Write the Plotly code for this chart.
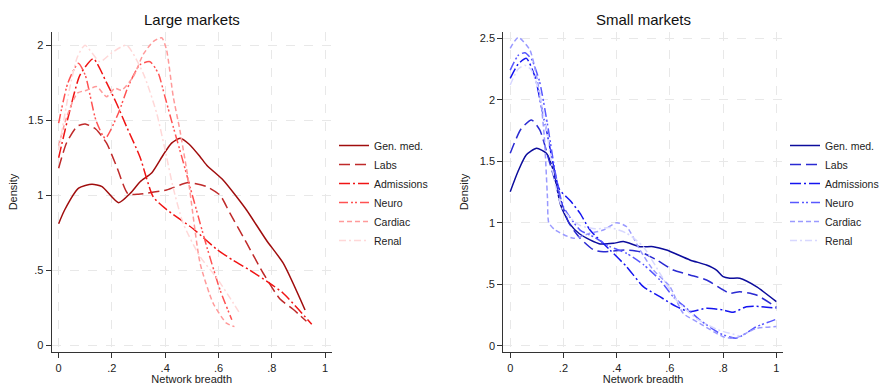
import plotly.graph_objects as go

series_names = ["Gen. med.", "Labs", "Admissions", "Neuro", "Cardiac", "Renal"]
x_tick_vals = [0, 0.2, 0.4, 0.6, 0.8, 1]
x_tick_text = ["0", ".2", ".4", ".6", ".8", "1"]
large_y_tick_vals = [0, 0.5, 1, 1.5, 2]
large_y_tick_text = ["0", ".5", "1", "1.5", "2"]
small_y_tick_vals = [0, 0.5, 1, 1.5, 2, 2.5]
small_y_tick_text = ["0", ".5", "1", "1.5", "2", "2.5"]

# ---- Large markets ----
large_genmed_x = [0, 0.022, 0.075, 0.125, 0.163, 0.225, 0.269, 0.306, 0.35, 0.393, 0.424, 0.456, 0.49, 0.531, 0.556, 0.618, 0.668, 0.706, 0.78, 0.843, 0.925]
large_genmed_y = [0.81, 0.90, 1.047, 1.073, 1.057, 0.95, 1.013, 1.09, 1.15, 1.27, 1.347, 1.38, 1.34, 1.257, 1.20, 1.10, 0.99, 0.90, 0.70, 0.547, 0.235]
large_labs_x = [0, 0.03, 0.07, 0.1, 0.14, 0.18, 0.218, 0.26, 0.3, 0.405, 0.487, 0.556, 0.606, 0.643, 0.706, 0.768, 0.83, 0.88, 0.93]
large_labs_y = [1.18, 1.35, 1.46, 1.475, 1.44, 1.347, 1.19, 1.01, 1.007, 1.035, 1.084, 1.057, 1.0, 0.88, 0.68, 0.48, 0.31, 0.24, 0.16]
large_adm_x = [0, 0.04, 0.08, 0.13, 0.18, 0.218, 0.255, 0.305, 0.355, 0.405, 0.506, 0.593, 0.656, 0.718, 0.793, 0.843, 0.9, 0.95]
large_adm_y = [1.25, 1.55, 1.80, 1.91, 1.75, 1.61, 1.457, 1.257, 0.99, 0.905, 0.775, 0.64, 0.565, 0.50, 0.413, 0.347, 0.24, 0.14]
large_neuro_x = [0, 0.035, 0.074, 0.1, 0.14, 0.175, 0.225, 0.26, 0.305, 0.343, 0.374, 0.399, 0.43, 0.462, 0.493, 0.556, 0.606, 0.65]
large_neuro_y = [1.48, 1.75, 1.88, 1.80, 1.50, 1.38, 1.55, 1.72, 1.87, 1.89, 1.813, 1.657, 1.457, 1.257, 1.057, 0.657, 0.369, 0.17]
large_cardiac_x = [0, 0.03, 0.07, 0.105, 0.143, 0.18, 0.211, 0.236, 0.28, 0.318, 0.355, 0.387, 0.405, 0.43, 0.455, 0.487, 0.531, 0.58, 0.63, 0.66]
large_cardiac_y = [1.33, 1.52, 1.68, 1.70, 1.724, 1.657, 1.713, 1.70, 1.79, 1.94, 2.024, 2.05, 1.97, 1.66, 1.435, 1.10, 0.547, 0.28, 0.147, 0.124]
large_renal_x = [0, 0.04, 0.07, 0.099, 0.155, 0.2, 0.255, 0.318, 0.368, 0.405, 0.43, 0.468, 0.531, 0.593, 0.656, 0.68]
large_renal_y = [1.30, 1.70, 1.92, 2.0, 1.89, 1.95, 2.0, 1.81, 1.547, 1.257, 1.05, 0.81, 0.59, 0.45, 0.28, 0.213]

# ---- Small markets ----
small_genmed_x = [0, 0.03, 0.06, 0.099, 0.136, 0.161, 0.19, 0.224, 0.26, 0.3, 0.3375, 0.3875, 0.425, 0.4875, 0.5375, 0.5875, 0.675, 0.7375, 0.775, 0.8, 0.825, 0.8625, 0.925, 1.0]
small_genmed_y = [1.252, 1.42, 1.55, 1.605, 1.564, 1.43, 1.14, 0.99, 0.91, 0.86, 0.827, 0.832, 0.846, 0.805, 0.805, 0.778, 0.697, 0.656, 0.615, 0.561, 0.548, 0.548, 0.48, 0.358]
small_labs_x = [0, 0.04, 0.08, 0.111, 0.149, 0.186, 0.22, 0.26, 0.3125, 0.35, 0.4375, 0.4875, 0.55, 0.6125, 0.675, 0.7375, 0.8, 0.825, 0.8625, 0.925, 1.0]
small_labs_y = [1.564, 1.76, 1.835, 1.754, 1.483, 1.211, 1.0, 0.88, 0.78, 0.764, 0.778, 0.764, 0.697, 0.615, 0.575, 0.534, 0.453, 0.426, 0.439, 0.412, 0.312]
small_adm_x = [0, 0.03, 0.061, 0.093, 0.117, 0.136, 0.161, 0.185, 0.225, 0.2625, 0.3, 0.375, 0.4375, 0.5, 0.5625, 0.625, 0.675, 0.7375, 0.8, 0.8375, 0.8875, 0.925, 1.0]
small_adm_y = [2.174, 2.29, 2.336, 2.187, 1.943, 1.754, 1.48, 1.27, 1.18, 1.076, 0.94, 0.778, 0.642, 0.48, 0.398, 0.317, 0.277, 0.304, 0.29, 0.271, 0.317, 0.32, 0.305]
small_neuro_x = [0, 0.03, 0.055, 0.08, 0.11, 0.14, 0.17, 0.2, 0.2625, 0.3125, 0.375, 0.4375, 0.5, 0.5625, 0.6125, 0.6625, 0.7125, 0.7875, 0.85, 0.925, 1.0]
small_neuro_y = [2.24, 2.36, 2.382, 2.33, 2.15, 1.80, 1.40, 1.13, 0.94, 0.886, 0.805, 0.75, 0.66, 0.534, 0.398, 0.304, 0.209, 0.10, 0.06, 0.154, 0.215]
small_cardiac_x = [0, 0.03, 0.074, 0.111, 0.128, 0.14, 0.145, 0.169, 0.238, 0.3, 0.35, 0.4, 0.4375, 0.4875, 0.5375, 0.6, 0.65, 0.712, 0.8, 0.844, 0.925, 1.0]
small_cardiac_y = [2.418, 2.507, 2.404, 2.05, 1.70, 1.20, 1.0, 0.94, 0.873, 0.914, 0.94, 1.0, 0.967, 0.778, 0.615, 0.48, 0.263, 0.182, 0.073, 0.06, 0.14, 0.155]
small_renal_x = [0, 0.03, 0.055, 0.08, 0.11, 0.14, 0.17, 0.2, 0.26, 0.32, 0.375, 0.4375, 0.5, 0.5625, 0.625, 0.7, 0.78, 0.86]
small_renal_y = [2.12, 2.25, 2.28, 2.24, 2.05, 1.70, 1.30, 1.10, 0.98, 0.95, 0.96, 0.914, 0.805, 0.588, 0.37, 0.22, 0.13, 0.08]

large_x = [large_genmed_x, large_labs_x, large_adm_x, large_neuro_x, large_cardiac_x, large_renal_x]
large_y = [large_genmed_y, large_labs_y, large_adm_y, large_neuro_y, large_cardiac_y, large_renal_y]
small_x = [small_genmed_x, small_labs_x, small_adm_x, small_neuro_x, small_cardiac_x, small_renal_x]
small_y = [small_genmed_y, small_labs_y, small_adm_y, small_neuro_y, small_cardiac_y, small_renal_y]

red_colors = ["#a00d0d", "#bf2a2a", "#f01414", "#ff5252", "#ff9a9a", "#ffd8d8"]
blue_colors = ["#0c0c9c", "#2a2ad2", "#1414f0", "#5858ff", "#9a9aff", "#d8d8ff"]
dashes = ["solid", "11px,5px", "11px,3px,2px,3px", "9px,3px,2px,2px,2px,3px", "5px,3px", "7px,3px,2px,3px"]

FONT = "Liberation Sans, Arial, sans-serif"
fig = go.Figure()

for i, name in enumerate(series_names):
    fig.add_trace(go.Scatter(
        x=large_x[i], y=large_y[i], name=name, mode="lines",
        line=dict(color=red_colors[i], width=1.5, dash=dashes[i], shape="spline", smoothing=0.6),
        xaxis="x", yaxis="y", legend="legend"))
for i, name in enumerate(series_names):
    fig.add_trace(go.Scatter(
        x=small_x[i], y=small_y[i], name=name, mode="lines",
        line=dict(color=blue_colors[i], width=1.5, dash=dashes[i], shape="spline", smoothing=0.6),
        xaxis="x2", yaxis="y2", legend="legend2"))

W, H = 881, 385
y_dom = [1 - 352.3 / H, 1 - 31.7 / H]

def xaxis(dom, anchor):
    return dict(domain=dom, anchor=anchor, range=[-0.026, 1.025],
                tickvals=x_tick_vals, ticktext=x_tick_text,
                showline=True, linecolor="#333333", linewidth=1.2,
                ticks="outside", ticklen=5, tickcolor="#333333",
                showgrid=True, gridcolor="#e8e8e8", griddash="dash", gridwidth=1,
                zeroline=False, tickfont=dict(size=11, color="#222"), automargin=False,
                title=dict(text="Network breadth", font=dict(size=11, color="#222"), standoff=6))

def yaxis(anchor, rng, tv, tt):
    return dict(domain=y_dom, anchor=anchor, range=rng,
                tickvals=tv, ticktext=tt,
                showline=True, linecolor="#333333", linewidth=1.2,
                ticks="outside", ticklen=5, tickcolor="#333333",
                showgrid=True, gridcolor="#e8e8e8", griddash="dash", gridwidth=1,
                zeroline=False, tickfont=dict(size=11, color="#222"), automargin=False,
                title=dict(text="Density", font=dict(size=11, color="#222"), standoff=8))

fig.update_layout(
    width=W, height=H,
    margin=dict(l=0, r=0, t=0, b=0, autoexpand=False),
    paper_bgcolor="white", plot_bgcolor="white",
    font=dict(family=FONT, size=11, color="#222"),
    xaxis=xaxis([51.7 / W, 331.7 / W], "y"),
    yaxis=yaxis("x", [-0.047, 2.09], large_y_tick_vals, large_y_tick_text),
    xaxis2=xaxis([503.3 / W, 783 / W], "y2"),
    yaxis2=yaxis("x2", [-0.054, 2.553], small_y_tick_vals, small_y_tick_text),
    legend=dict(x=334 / W, y=1 - 131 / H, xanchor="left", yanchor="top",
                font=dict(size=10.5, color="#222"), itemwidth=30, tracegroupgap=0,
                bgcolor="rgba(0,0,0,0)"),
    legend2=dict(x=785 / W, y=1 - 131 / H, xanchor="left", yanchor="top",
                 font=dict(size=10.5, color="#222"), itemwidth=30, tracegroupgap=0,
                 bgcolor="rgba(0,0,0,0)"),
    annotations=[
        dict(text="Large markets", x=191.7 / W, y=1 - 19 / H, xref="paper", yref="paper",
             showarrow=False, font=dict(size=15, color="#111"), xanchor="center", yanchor="middle"),
        dict(text="Small markets", x=643 / W, y=1 - 19 / H, xref="paper", yref="paper",
             showarrow=False, font=dict(size=15, color="#111"), xanchor="center", yanchor="middle"),
    ],
)

fig.write_html("out.html", config={"displayModeBar": False},
               post_script="document.body.style.margin='0';document.body.style.padding='0';document.body.style.overflow='hidden';")
